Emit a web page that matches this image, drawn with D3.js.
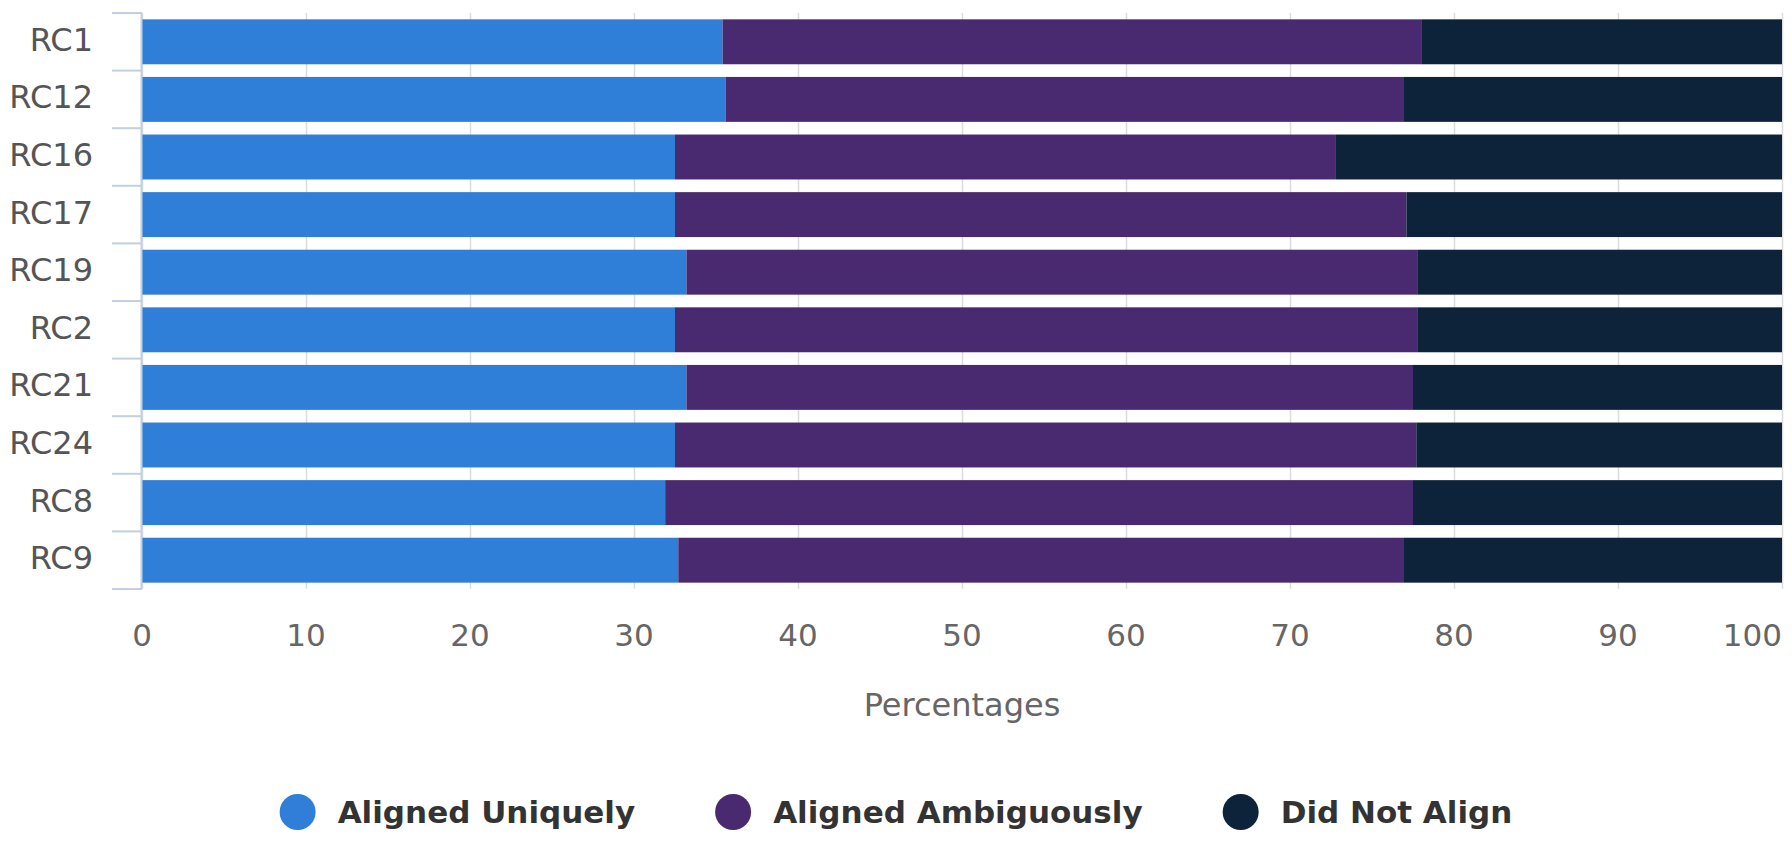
<!DOCTYPE html>
<html>
<head>
<meta charset="utf-8">
<script src="https://cdn.jsdelivr.net/npm/d3@7"></script>
<style>
  body { margin: 0; background: #fff; }
  text { font-family: "DejaVu Sans", sans-serif; }
</style>
</head>
<body>
<script>
var width = 1792,
  height = 848;

// data (percent of reads)
var categories = ["RC1", "RC12", "RC16", "RC17", "RC19", "RC2", "RC21", "RC24", "RC8", "RC9"];
var alignedUniquely = [35.4, 35.6, 32.5, 32.5, 33.2, 32.5, 33.2, 32.5, 31.9, 32.7];
var alignedAmbiguously = [42.6, 41.3, 40.3, 44.6, 44.6, 45.3, 44.3, 45.2, 45.6, 44.2];
var didNotAlign = [22.0, 23.1, 27.2, 22.9, 22.2, 22.2, 22.5, 22.3, 22.5, 23.1];
var seriesNames = ["Aligned Uniquely", "Aligned Ambiguously", "Did Not Align"];
var xTicks = [0, 10, 20, 30, 40, 50, 60, 70, 80, 90, 100];

var couleur = d3.scaleOrdinal()
  .domain(seriesNames)
  .range(["#2f7ed8", "#492970", "#0d233a"]);

var margin = { top: 13, right: 10, bottom: 259, left: 142 };
var plotW = width - margin.left - margin.right,
  plotH = height - margin.top - margin.bottom;

var svg = d3.select("body")
  .append("svg")
  .attr("width", width)
  .attr("height", height);

var g = svg.append("g")
  .attr("transform", "translate(" + margin.left + "," + margin.top + ")");

var x = d3.scaleLinear().domain([0, 100]).range([0, plotW]);
var y = d3.scaleBand().domain(categories).range([0, plotH]).paddingInner(0.22).paddingOuter(0.11);

// table for the stack
var table = categories.map(function (c, i) {
  return {
    cat: c,
    "Aligned Uniquely": alignedUniquely[i],
    "Aligned Ambiguously": alignedAmbiguously[i],
    "Did Not Align": didNotAlign[i]
  };
});
var stacked = d3.stack().keys(seriesNames)(table);

// vertical grid lines
g.append("g")
  .selectAll("line")
  .data(xTicks)
  .enter().append("line")
  .attr("x1", function (d) { return Math.round(x(d)) + 0.5; })
  .attr("x2", function (d) { return Math.round(x(d)) + 0.5; })
  .attr("y1", 0)
  .attr("y2", plotH)
  .attr("stroke", "#dcdcdc")
  .attr("stroke-width", 1.5);

// bars
g.append("g")
  .selectAll("g")
  .data(stacked)
  .enter().append("g")
  .attr("fill", function (d) { return couleur(d.key); })
  .selectAll("rect")
  .data(function (d) { return d; })
  .enter().append("rect")
  .attr("x", function (d) { return x(d[0]); })
  .attr("width", function (d) { return x(d[1]) - x(d[0]); })
  .attr("y", function (d) { return y(d.data.cat); })
  .attr("height", y.bandwidth());

// category axis: line, ticks between categories, labels
var step = y.step();
var boundaries = d3.range(categories.length + 1).map(function (i) { return i * step; });
g.append("line")
  .attr("x1", -0.5).attr("x2", -0.5)
  .attr("y1", 0).attr("y2", plotH)
  .attr("stroke", "#c0d0e0")
  .attr("stroke-width", 2);
g.append("g")
  .selectAll("line")
  .data(boundaries)
  .enter().append("line")
  .attr("x1", -30).attr("x2", 0)
  .attr("y1", function (d) { return d; })
  .attr("y2", function (d) { return d; })
  .attr("stroke", "#c0d0e0")
  .attr("stroke-width", 2);
g.append("g")
  .selectAll("text")
  .data(categories)
  .enter().append("text")
  .attr("x", -49)
  .attr("y", function (d) { return y(d) + y.bandwidth() / 2 - 2; })
  .attr("text-anchor", "end")
  .attr("dominant-baseline", "central")
  .style("font-size", "32px")
  .style("fill", "#555")
  .text(function (d) { return d; });

// value axis labels
g.append("g")
  .selectAll("text")
  .data(xTicks)
  .enter().append("text")
  .attr("x", function (d) { return x(d); })
  .attr("y", plotH + 57)
  .attr("text-anchor", function (d, i) { return i === xTicks.length - 1 ? "end" : "middle"; })
  .style("font-size", "31px")
  .style("fill", "#666")
  .text(function (d) { return d; });

svg.append("text")
  .attr("x", margin.left + plotW / 2)
  .attr("y", 716)
  .attr("text-anchor", "middle")
  .style("font-size", "32px")
  .style("fill", "#666")
  .text("Percentages");

// legend, centred on the page
var legend = svg.append("g").attr("transform", "translate(0,812)");
var items = legend.selectAll("g")
  .data(seriesNames)
  .enter().append("g");
items.append("circle")
  .attr("r", 18)
  .attr("fill", function (d) { return couleur(d); });
items.append("text")
  .attr("x", 40)
  .attr("dominant-baseline", "central")
  .style("font-size", "31px")
  .style("font-weight", "bold")
  .style("fill", "#333")
  .text(function (d) { return d; });
var pos = 0, starts = [];
items.each(function () {
  var w = d3.select(this).select("text").node().getComputedTextLength();
  starts.push(pos);
  pos += 18 + 40 + w + 80;
});
var total = pos - 80;
var off = width / 2 - total / 2 + 18;
items.attr("transform", function (d, i) { return "translate(" + (off + starts[i]) + ",0)"; });
</script>
</body>
</html>
